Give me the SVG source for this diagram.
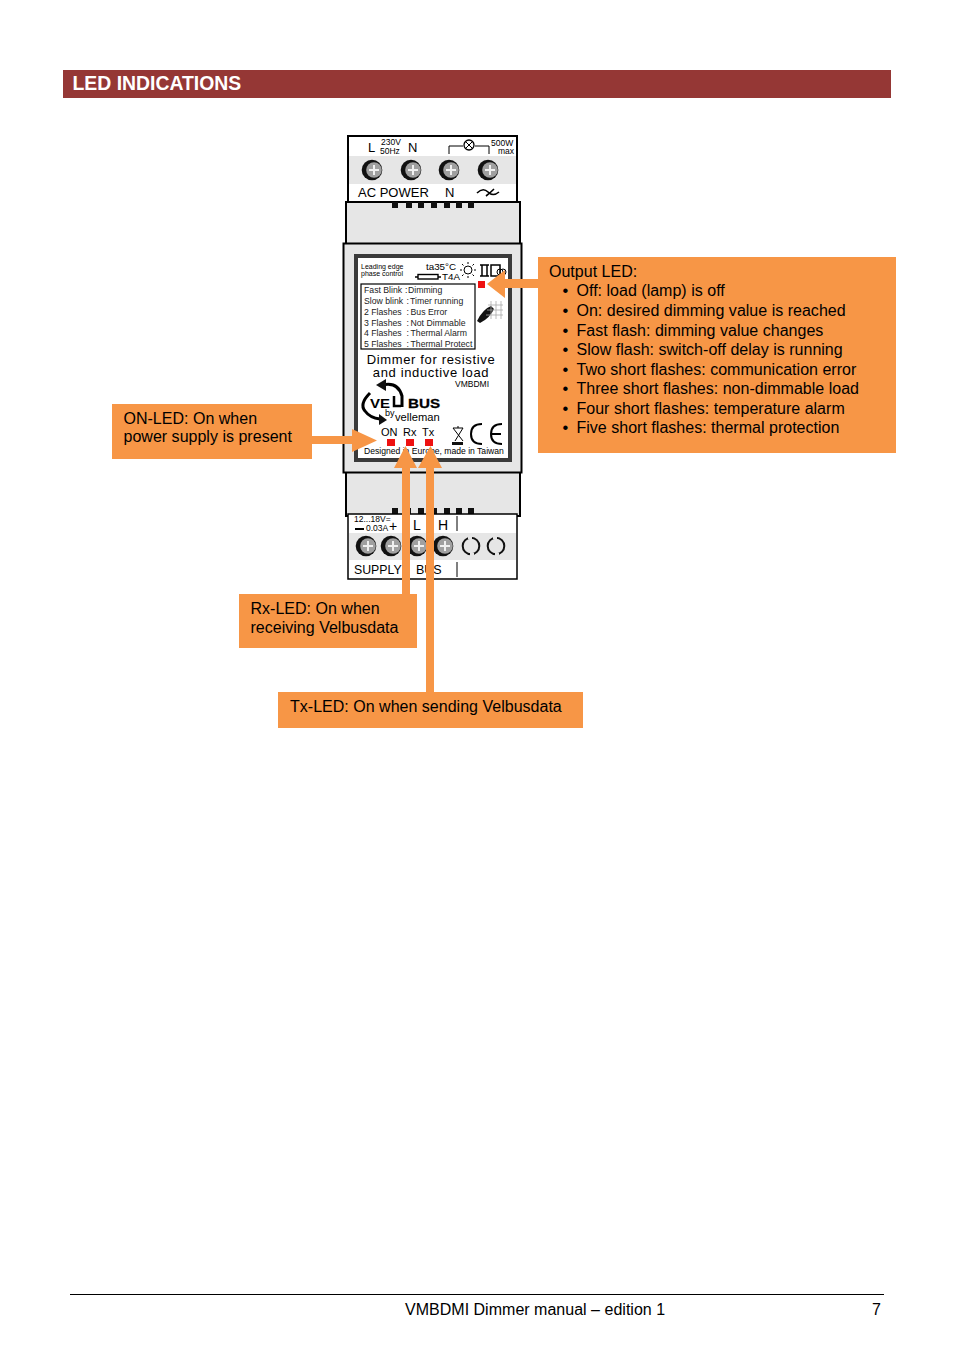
<svg xmlns="http://www.w3.org/2000/svg" width="954" height="1350" viewBox="0 0 954 1350">
<style>
text{font-family:"Liberation Sans",Arial,sans-serif;fill:#000}
.c{font-size:16px;letter-spacing:.015px}
.b{font-size:16.500px}
.o{fill:#f79646}
.k{stroke:#000;fill:none}
.g{fill:#e6e6e6;stroke:#000;stroke-width:2}
.t{font-size:8.700px;fill:#222}
.led{fill:#ee1111}
</style>
<defs>
<g id="screw"><circle r="10.300" fill="#111"/><circle cx="2" r="7.800" fill="#a0a0a0"/><path d="M-3 0H7M2-5V5" stroke="#f0f0f0" stroke-width="2"/></g>
<g id="hole"><circle r="8.300" fill="none" stroke="#111" stroke-width="2"/><path d="M-3 -8.500H1M-1 8.500H3" stroke="#e6e6e6" stroke-width="3"/></g>
</defs>
<rect width="954" height="1350" fill="#fff"/>
<g id="header"><rect x="63" y="70" width="828" height="28" fill="#953735"/><text x="72.500" y="90" font-size="19.400" font-weight="700" style="fill:#fff">LED INDICATIONS</text></g>

<g id="device">
<rect x="348" y="136" width="169" height="70" fill="#fff" stroke="#000" stroke-width="2"/>
<rect x="349" y="156" width="167" height="28" fill="#e6e6e6"/>
<text x="368" y="152" font-size="13">L</text><text x="381" y="145" font-size="8.500">230V</text><text x="380" y="154" font-size="8.500">50Hz</text><text x="408" y="152" font-size="13">N</text>
<path class="k" d="M449 154V146H463M475 146H489V154"/><circle class="k" cx="469" cy="145" r="5" stroke-width="1.300"/><path class="k" d="M465.500 141.500L472.500 148.500M472.500 141.500L465.500 148.500"/>
<text x="491" y="146" font-size="8.500">500W</text><text x="498" y="154" font-size="8.500">max</text>
<use href="#screw" x="372" y="170"/><use href="#screw" x="411" y="170"/><use href="#screw" x="449" y="170"/><use href="#screw" x="488" y="170"/>
<text x="358" y="197" font-size="13" fill="#222">AC POWER</text><text x="445" y="197" font-size="13">N</text>
<path class="k" stroke-width="1.600" d="M477 193Q483 187 488 192T499 192M486 196Q490 193 494 189"/>
<rect class="g" x="346" y="202" width="174" height="42"/>
<path d="M392 202h6v6h-6zM406 202h6v6h-6zM418 202h6v6h-6zM431 202h6v6h-6zM444 202h6v6h-6zM456 202h6v6h-6zM468 202h6v6h-6z" fill="#111"/>
<rect class="g" x="346" y="472" width="174" height="44"/>
<path d="M392 508h6v6h-6zM405 508h6v6h-6zM418 508h6v6h-6zM431 508h6v6h-6zM444 508h6v6h-6zM456 508h6v6h-6zM468 508h6v6h-6z" fill="#111"/>
<rect x="348" y="514" width="169" height="65" fill="#fff" stroke="#000" stroke-width="1.500"/>
<rect x="349" y="533" width="167" height="27" fill="#e6e6e6"/>
<text x="354" y="522" font-size="8.500">12...18V=</text><path d="M355 529H364" stroke="#000" stroke-width="2"/><text x="366" y="531" font-size="8.500">0.03A</text><text x="389" y="531" font-size="14">+</text>
<text x="413" y="530" font-size="14">L</text><text x="438" y="530" font-size="14">H</text><path class="k" d="M457 516V531M457 562V577"/>
<use href="#screw" x="366" y="546"/><use href="#screw" x="391" y="546"/><use href="#screw" x="417" y="546"/><use href="#screw" x="443" y="546"/><use href="#hole" x="471" y="546"/><use href="#hole" x="496" y="546"/>
<text x="354" y="574" font-size="12.300">SUPPLY</text><text x="416" y="574" font-size="12.500">BUS</text>
<rect x="343.500" y="243.500" width="178" height="229" fill="#e6e6e6" stroke="#000" stroke-width="2"/>
<rect x="356" y="256" width="154" height="204" fill="#fff" stroke="#3a3a3a" stroke-width="4"/>
<text x="361" y="268.500" font-size="7" fill="#333">Leading edge</text><text x="361" y="276" font-size="7" fill="#333">phase control</text>
<text x="426" y="270" font-size="9.800">ta35°C</text><text x="442" y="280" font-size="9.800">T4A</text>
<path d="M415 277H441" stroke="#000" stroke-width="1.500"/><rect x="418" y="274.500" width="20" height="4.500" fill="#fff" stroke="#000" stroke-width="1.400"/>
<circle class="k" cx="468" cy="270" r="4"/><path class="k" d="M468 262V264M468 276V278M460 270H462M474 270H476M462 264L463.500 265.500M474 264L472.500 265.500M462 276L463.500 274.500M474 276L472.500 274.500"/>
<path class="k" stroke-width="1.500" d="M480 265H489M482 265V276M487 265V276M480 276H489M491 265H500V276H491Z"/><circle class="k" cx="500" cy="272" r="3"/><circle class="k" cx="503" cy="272" r="3"/>
<rect x="361" y="284" width="114" height="65" fill="#fff" stroke="#000" stroke-width="1.200"/>
<text class="t" x="364" y="292.500">Fast Blink<tspan x="405">:</tspan><tspan x="408">Dimming</tspan></text>
<text class="t" x="364" y="303.500">Slow blink<tspan x="406.500">:</tspan><tspan x="410">Timer running</tspan></text>
<text class="t" x="364" y="314.500">2 Flashes<tspan x="406.500">:</tspan><tspan x="410.500">Bus Error</tspan></text>
<text class="t" x="364" y="325.500">3 Flashes<tspan x="406.500">:</tspan><tspan x="410.500">Not Dimmable</tspan></text>
<text class="t" x="364" y="336">4 Flashes<tspan x="406.500">:</tspan><tspan x="410.500">Thermal Alarm</tspan></text>
<text class="t" x="364" y="347">5 Flashes<tspan x="406.500">:</tspan><tspan x="410.500">Thermal Protect</tspan></text>
<path d="M477 321Q483 309 491 306L494 309Q490 318 480 323Z" fill="#111"/><path d="M488 305H503M487 310H503M486 315H503M491 301V319M496 301V319M501 301V319" stroke="#aaa" stroke-width=".8" fill="none"/>
<text x="431" y="364" font-size="13" letter-spacing=".65" text-anchor="middle" fill="#222">Dimmer for resistive</text><text x="431" y="376.500" font-size="13" letter-spacing=".65" text-anchor="middle" fill="#222">and inductive load</text>
<text x="455" y="387" font-size="8.500">VMBDMI</text>
<path class="k" stroke-width="3" d="M382 385Q398 381 402 396V407"/><path d="M376 385L386 379V391Z" fill="#111"/>
<path class="k" stroke-width="3" d="M370 393Q359 404 365 411Q370 418 380 419"/><path d="M387 420L379 414V425Z" fill="#111"/>
<text x="370" y="407.500" font-size="13" font-weight="700" textLength="20" lengthAdjust="spacingAndGlyphs">VE</text><path d="M394 396V406H401" class="k" stroke-width="2.500"/><text x="408" y="407.500" font-size="13" font-weight="700" textLength="32" lengthAdjust="spacingAndGlyphs" stroke="#000" stroke-width=".3">BUS</text>
<text x="385" y="416" font-size="9">by</text><text x="395" y="420.500" font-size="11.200">velleman</text>
<text x="381" y="436" font-size="11">ON</text><text x="403" y="436" font-size="11">Rx</text><text x="422" y="436" font-size="11">Tx</text>
<path class="k" d="M453 428H463L455 441M463 441L453 428M458 426V428"/><rect x="452" y="442" width="11" height="3" fill="#111"/>
<path class="k" stroke-width="2" d="M482 424Q471 424 471 434T482 444M502 424Q491 424 491 434T502 444M491 434H501"/>
<text x="364" y="454" font-size="8.600">Designed in Europe, made in Taiwan</text>
<rect class="led" x="387" y="439" width="8" height="7"/><rect class="led" x="406" y="439" width="8" height="7"/><rect class="led" x="425" y="439" width="8" height="7"/>
<rect class="led" x="478" y="281" width="7" height="7"/>
</g>

<g id="connectors">
<path class="o" d="M312 436H352V429L377 440.500L352 452V444H312Z"/>
<path class="o" d="M402 594V468H394L405.500 446L417 468H410V594Z"/>
<path class="o" d="M426 692V468H418L430.500 446L442 468H434V692Z"/>
<path class="o" d="M538 279H505V270L487 284L505 298V288H538Z"/>
</g>

<g id="on-led"><rect class="o" x="112" y="404" width="200" height="55"/><text class="c" x="123.500" y="424">ON-LED: On when</text><text class="c" x="123.500" y="442">power supply is present</text></g>
<g id="rx-led"><rect class="o" x="239" y="594" width="178" height="54"/><text class="c" x="250.500" y="614">Rx-LED: On when</text><text class="c" x="250.500" y="633">receiving Velbusdata</text></g>
<g id="tx-led"><rect class="o" x="278" y="692" width="305" height="36"/><text class="c" x="290" y="712">Tx-LED: On when sending Velbusdata</text></g>
<g id="output-led"><rect class="o" x="538" y="257" width="358" height="196"/>
<text class="c" x="549" y="277">Output LED:</text>
<g id="bullets">
<text class="b" x="562.500" y="296">•</text><text class="c" x="576.500" y="296">Off: load (lamp) is off</text>
<text class="b" x="562.500" y="316">•</text><text class="c" x="576.500" y="316">On: desired dimming value is reached</text>
<text class="b" x="562.500" y="336">•</text><text class="c" x="576.500" y="336">Fast flash: dimming value changes</text>
<text class="b" x="562.500" y="355">•</text><text class="c" x="576.500" y="355">Slow flash: switch-off delay is running</text>
<text class="b" x="562.500" y="375">•</text><text class="c" x="576.500" y="375">Two short flashes: communication error</text>
<text class="b" x="562.500" y="394">•</text><text class="c" x="576.500" y="394">Three short flashes: non-dimmable load</text>
<text class="b" x="562.500" y="414">•</text><text class="c" x="576.500" y="414">Four short flashes: temperature alarm</text>
<text class="b" x="562.500" y="433">•</text><text class="c" x="576.500" y="433">Five short flashes: thermal protection</text>
</g></g>

<g id="footer"><path d="M70 1294.500H884" stroke="#000" stroke-width="1"/><text class="c" x="405" y="1315">VMBDMI Dimmer manual – edition 1</text><text class="c" x="872" y="1315">7</text></g>
</svg>
